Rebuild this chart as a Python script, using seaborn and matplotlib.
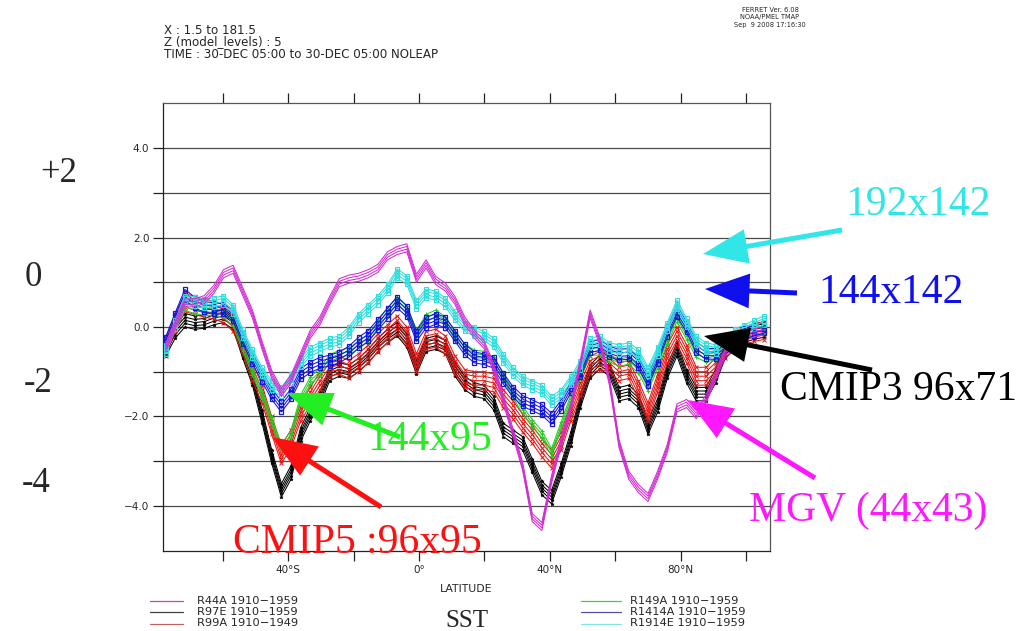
import numpy as np
import pandas as pd
import matplotlib
matplotlib.use("Agg")
import matplotlib.pyplot as plt
from matplotlib.lines import Line2D
import seaborn as sns

# ---------------------------------------------------------------------------
# Zonal-mean SST difference (model level 5) along latitude, one ensemble per run
# ---------------------------------------------------------------------------
LATITUDE = np.linspace(-77.5, 105.4, 63)

SST_R44A = [-0.45, 0.05, 0.55, 0.55, 0.62, 0.85, 1.2, 1.3, 0.8, 0.3,
            -0.4, -1.05, -1.45, -1.15, -0.65, -0.15, 0.15, 0.6, 1.0, 1.08,
            1.12, 1.2, 1.32, 1.6, 1.72, 1.78, 1.1, 1.42, 1.05, 0.9,
            0.6, 0.15, -0.15, -0.38, -0.9, -1.6, -2.35, -3.1, -4.25, -4.45,
            -3.4, -2.55, -1.8, -0.8, 0.3, -0.3, -1.2, -2.6, -3.3, -3.6,
            -3.8, -3.3, -2.7, -1.8, -1.7, -1.95, -1.6, -1.1, -0.55, -0.35,
            -0.2, -0.12, -0.08]

SST_R97E = [-0.5, -0.1, 0.15, 0.1, 0.12, 0.2, 0.25, 0.1, -0.55, -1.15,
            -2.0, -2.9, -3.65, -3.25, -2.4, -1.95, -1.6, -1.05, -0.95, -1.0,
            -0.85, -0.65, -0.4, -0.2, -0.05, -0.3, -0.9, -0.4, -0.35, -0.45,
            -0.95, -1.25, -1.4, -1.45, -1.7, -2.3, -2.45, -2.6, -3.1, -3.6,
            -3.8, -3.2, -2.5, -1.65, -1.0, -0.78, -0.95, -1.5, -1.45, -1.65,
            -2.25, -1.75, -1.0, -0.5, -1.1, -1.5, -1.5, -1.1, -0.55, -0.35,
            -0.2, -0.12, -0.08]

SST_R99A = [-0.45, 0.1, 0.55, 0.48, 0.42, 0.38, 0.3, 0.1, -0.4, -1.0,
            -1.5, -2.2, -2.85, -2.5, -1.9, -1.55, -1.2, -0.9, -0.85, -0.95,
            -0.8, -0.6, -0.35, -0.15, 0.05, -0.2, -0.8, -0.3, -0.25, -0.4,
            -0.85, -1.15, -1.2, -1.2, -1.25, -1.6, -1.85, -2.15, -2.4, -2.7,
            -2.95, -2.55, -1.9, -1.35, -0.85, -0.75, -0.8, -1.0, -0.95, -1.4,
            -1.9, -1.25, -0.6, -0.2, -0.6, -1.1, -1.1, -0.9, -0.5, -0.3,
            -0.2, -0.12, -0.08]

SST_R149A = [-0.4, 0.0, 0.45, 0.38, 0.35, 0.32, 0.3, 0.1, -0.45, -1.0,
             -1.5, -2.1, -2.7, -2.4, -1.6, -1.2, -1.0, -0.7, -0.6, -0.55,
             -0.4, -0.25, 0.05, 0.35, 0.6, 0.4, -0.15, 0.2, 0.3, 0.15,
             -0.2, -0.45, -0.6, -0.62, -0.75, -1.1, -1.5, -1.85, -2.15, -2.4,
             -2.8, -2.2, -1.6, -1.05, -0.55, -0.55, -0.7, -0.8, -0.75, -0.95,
             -1.35, -0.85, -0.3, 0.2, -0.2, -0.6, -0.7, -0.65, -0.45, -0.3,
             -0.2, -0.12, -0.05]

SST_R1414A = [-0.35, 0.2, 0.72, 0.55, 0.45, 0.42, 0.4, 0.25, -0.25, -0.7,
              -1.1, -1.5, -1.78, -1.5, -1.05, -0.9, -0.8, -0.75, -0.68, -0.55,
              -0.35, -0.2, 0.05, 0.3, 0.55, 0.35, -0.2, 0.1, 0.18, 0.1,
              -0.2, -0.5, -0.68, -0.72, -0.8, -1.15, -1.45, -1.65, -1.75, -1.85,
              -2.05, -1.75, -1.35, -1.0, -0.45, -0.4, -0.55, -0.62, -0.6, -0.8,
              -1.2, -0.7, -0.1, 0.35, 0.0, -0.45, -0.6, -0.6, -0.4, -0.25,
              -0.15, -0.08, -0.02]

SST_R1914E = [-0.5, 0.05, 0.6, 0.58, 0.52, 0.55, 0.6, 0.4, -0.15, -0.6,
              -1.0, -1.3, -1.45, -1.15, -0.8, -0.55, -0.45, -0.35, -0.3, -0.1,
              0.2, 0.4, 0.6, 0.85, 1.2, 1.05, 0.5, 0.75, 0.7, 0.55,
              0.25, 0.0, -0.1, -0.2, -0.35, -0.7, -1.0, -1.2, -1.3, -1.4,
              -1.65, -1.5, -1.2, -0.85, -0.35, -0.3, -0.45, -0.5, -0.45, -0.6,
              -1.0, -0.55, 0.0, 0.5, 0.1, -0.3, -0.45, -0.5, -0.32, -0.15,
              -0.05, 0.05, 0.15]

# spread of the individual ensemble members about each centre line
MEMBERS_R44A = [-0.1, -0.04, 0.02, 0.08]
MEMBERS_R97E = [-0.15, -0.07, 0.0, 0.07, 0.15]
MEMBERS_R99A = [-0.2, -0.1, 0.0, 0.1, 0.2]
MEMBERS_R149A = [-0.08, 0.0, 0.08]
MEMBERS_R1414A = [-0.12, -0.04, 0.04, 0.12]
MEMBERS_R1914E = [-0.1, -0.03, 0.04, 0.1]

RUN_LABELS = ["R44A 1910\u22121959", "R97E 1910\u22121959", "R99A 1910\u22121949",
              "R149A 1910\u22121959", "R1414A 1910\u22121959", "R1914E 1910\u22121959"]

X_MAJOR = [-40, 0, 40, 80]
X_MAJOR_LABELS = ["40\u00b0S", "0\u00b0", "40\u00b0N", "80\u00b0N"]
X_MINOR = [-60, -20, 20, 60, 100]
Y_TICKS = [-4, -3, -2, -1, 0, 1, 2, 3, 4]
Y_TICK_LABELS = ["\u22124.0", "", "\u22122.0", "", "0.0", "", "2.0", "", "4.0"]

LEFT_SCALE = ["+2", "0", "-2", "-4"]
GRID_NOTES = ["192x142", "144x142", "CMIP3 96x71", "MGV (44x43)", "144x95", "CMIP5 :96x95"]

HEADER_LINES = ["X : 1.5 to 181.5", "Z (model_levels) : 5",
                "TIME : 30-DEC 05:00 to 30-DEC 05:00 NOLEAP"]
STAMP_LINES = ["FERRET Ver. 6.08", "NOAA/PMEL TMAP", "Sep  9 2008 17:16:30"]

# ---------------------------------------------------------------------------
sns.set_style("white")
plt.rcParams["font.family"] = ["DejaVu Sans"]
plt.rcParams["axes.unicode_minus"] = True

W, H = 1023, 631
fig = plt.figure(figsize=(W / 100, H / 100), dpi=100)
fig.patch.set_facecolor("white")


def fx(x):
    return x / W


def fy(y):
    return 1 - y / H


ax = fig.add_axes([fx(163.3), fy(550.7), (770 - 163.3) / W, (550.7 - 103.3) / H])

runs = [
    # label, values, members, colour, marker style
    (RUN_LABELS[1], SST_R97E, MEMBERS_R97E, "#000000",
     dict(marker="*", markersize=2.6, markerfacecolor="#000000", markeredgecolor="#000000", markeredgewidth=0.4)),
    (RUN_LABELS[2], SST_R99A, MEMBERS_R99A, "#e81410",
     dict(marker="x", markersize=2.8, markerfacecolor="#e81410", markeredgecolor="#e81410", markeredgewidth=0.7)),
    (RUN_LABELS[3], SST_R149A, MEMBERS_R149A, "#22cc22",
     dict(marker="+", markersize=3.0, markerfacecolor="#22cc22", markeredgecolor="#22cc22", markeredgewidth=0.7)),
    (RUN_LABELS[4], SST_R1414A, MEMBERS_R1414A, "#1414e0",
     dict(marker="s", markersize=3.2, markerfacecolor="none", markeredgecolor="#1414e0", markeredgewidth=0.9)),
    (RUN_LABELS[5], SST_R1914E, MEMBERS_R1914E, "#30dede",
     dict(marker="s", markersize=3.2, markerfacecolor="none", markeredgecolor="#30dede", markeredgewidth=0.8)),
    (RUN_LABELS[0], SST_R44A, MEMBERS_R44A, "#d22cd2", dict()),
]

frames = []
for label, values, members, _, _ in runs:
    for i, off in enumerate(members):
        frames.append(pd.DataFrame({"lat": LATITUDE,
                                    "sst": np.asarray(values) + off,
                                    "member": i,
                                    "run": label}))
data = pd.concat(frames, ignore_index=True)

for z, (label, _, _, colour, mstyle) in enumerate(runs):
    sub = data[data["run"] == label]
    sns.lineplot(data=sub, x="lat", y="sst", units="member", estimator=None,
                 sort=False, color=colour, linewidth=0.75, ax=ax, legend=False,
                 zorder=3 + z, **mstyle)

ax.set_xlim(-78.2, 107.3)
ax.set_ylim(-5, 5)
ax.set_xticks(X_MAJOR)
ax.set_xticklabels(X_MAJOR_LABELS)
ax.set_xticks(X_MINOR, minor=True)
ax.set_yticks(Y_TICKS)
ax.set_yticklabels(Y_TICK_LABELS)
ax.set_xlabel("")
ax.set_ylabel("")
ax.tick_params(axis="x", which="both", direction="out", length=7, width=0.9,
               top=True, bottom=True, labelsize=7.5, pad=3, color="#222222")
ax.tick_params(axis="y", which="both", direction="out", length=7, width=0.9,
               left=True, right=False, labelsize=7.5, pad=3, color="#222222")
ax.yaxis.grid(True, color="#4a4a4a", linewidth=0.9, zorder=1)
ax.set_axisbelow(True)
for side, sp in ax.spines.items():
    sp.set_visible(True)
    sp.set_color("#222222" if side in ("left", "bottom") else "#555555")
    sp.set_linewidth(0.9)

fig.text(fx(466.5), fy(589), "LATITUDE", ha="center", va="center", fontsize=7.8)
fig.text(fx(467), fy(621), "SST", ha="center", va="center", fontsize=18,
         family="Liberation Serif")

# header block
for i, line in enumerate(HEADER_LINES):
    fig.text(fx(164), fy(30 + 12 * i), line, ha="left", va="center", fontsize=8.6)
for i, line in enumerate(STAMP_LINES):
    fig.text(fx(770), fy(10 + 7.5 * i), line, ha="center", va="center", fontsize=4.8)

# run legend below the axis
legend_rows = [600.5, 612, 623.5]
legend_colours = ["#c040c0", "#404040", "#c06060", "#44cc44", "#5050a8", "#80e4e4"]
for i, label in enumerate(RUN_LABELS):
    col = i // 3
    y = legend_rows[i % 3]
    x0, x1, xt = (150, 183, 197) if col == 0 else (581, 621, 630)
    fig.add_artist(Line2D([fx(x0), fx(x1)], [fy(y), fy(y)], transform=fig.transFigure,
                          color=legend_colours[i], linewidth=0.9))
    fig.text(fx(xt), fy(y), label, ha="left", va="center", fontsize=8.2)

# hand-written scale on the left
for txt, (x, y) in zip(LEFT_SCALE, [(59, 174), (33, 277), (38, 383), (36, 483)]):
    fig.text(fx(x), fy(y), txt, ha="center", va="center", fontsize=25,
             family="Liberation Serif")

# grid-resolution call-outs with arrows
notes = [
    (GRID_NOTES[0], "#30e6e6", (918, 205), (842, 230), (703, 254)),
    (GRID_NOTES[1], "#1010ee", (891, 293), (797, 293), (705, 289)),
    (GRID_NOTES[2], "#000000", (899, 390), (872, 370), (704, 336)),
    (GRID_NOTES[3], "#ff18ff", (868, 511), (815, 478), (688, 400)),
    (GRID_NOTES[4], "#22ee22", (430, 440), (400, 437), (287, 393)),
    (GRID_NOTES[5], "#ff1010", (357, 543), (381, 507), (272, 437)),
]
for txt, colour, tpos, tail, tip in notes:
    ax.annotate("", xy=(tip[0], H - tip[1]), xycoords="figure pixels",
                xytext=(tail[0], H - tail[1]), textcoords="figure pixels",
                annotation_clip=False, zorder=20,
                arrowprops=dict(arrowstyle="simple,head_length=1.6,head_width=1.25,tail_width=0.18",
                                color=colour, mutation_scale=20, shrinkA=0, shrinkB=0, lw=0))
    fig.text(fx(tpos[0]), fy(tpos[1]), txt, ha="center", va="center", fontsize=30,
             color=colour, family="Liberation Serif", zorder=21)

fig.savefig("out.png", dpi=100, facecolor="white")
